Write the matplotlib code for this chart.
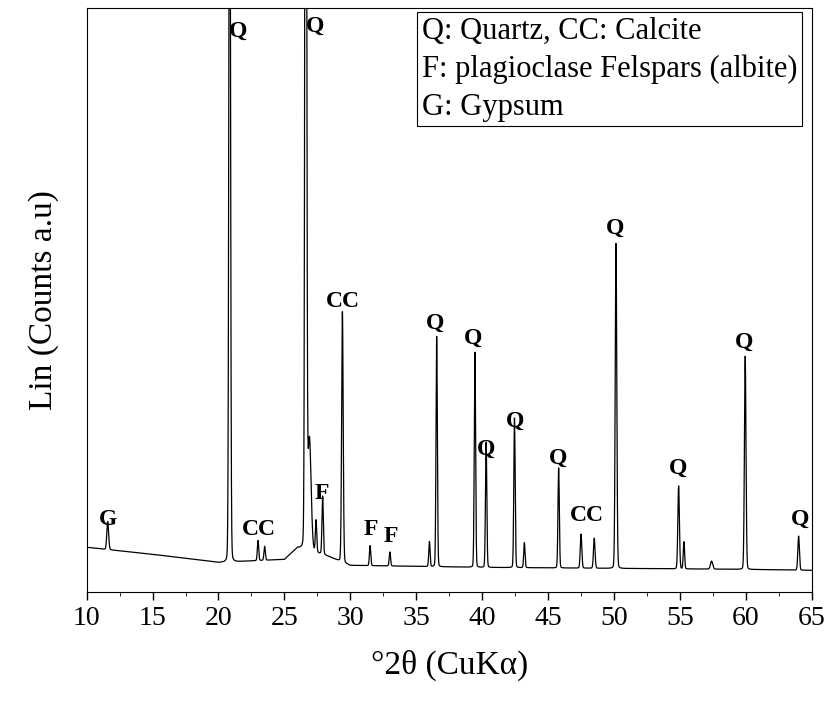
import numpy as np
import matplotlib
matplotlib.use("Agg")
import matplotlib.pyplot as plt
from matplotlib.ticker import MultipleLocator

plt.rcParams['font.family'] = ['Liberation Serif', 'DejaVu Serif']

# peak positions (2theta), heights above background, widths (hwhm)
peak_pos = [11.6, 20.85, 23.0, 23.5, 26.62, 26.9, 27.4, 27.9, 29.4, 31.5, 33.0, 36.0, 36.55,
            39.45, 40.3, 42.45, 43.2, 45.8, 47.5, 48.5, 50.15, 54.9, 55.3, 57.4, 59.95, 64.0]
peak_h = [28, 900, 20, 14, 1400, 110, 32, 58, 250, 20, 14, 25, 230,
          215, 125, 150, 25, 100, 34, 30, 325, 83, 27, 8, 213, 34]
peak_w = [0.08, 0.07, 0.06, 0.06, 0.07, 0.15, 0.06, 0.06, 0.07, 0.06, 0.06, 0.06, 0.06,
          0.06, 0.06, 0.06, 0.06, 0.06, 0.07, 0.07, 0.07, 0.07, 0.06, 0.1, 0.07, 0.07]
# background anchor points
bg_x = [10, 15, 20, 25, 26, 28, 30, 35, 40, 50, 60, 65]
bg_y = [45, 38, 30, 33, 45, 38, 27, 26, 25, 24, 23, 22]

labels = [("G", 11.6, 62), ("Q", 21.5, 550), ("CC", 23.1, 52), ("Q", 27.3, 555),
          ("F", 27.85, 88), ("CC", 29.4, 280), ("F", 31.55, 52), ("F", 33.05, 45),
          ("Q", 36.4, 258), ("Q", 39.3, 243), ("Q", 40.3, 132), ("Q", 42.5, 160),
          ("Q", 45.75, 123), ("CC", 47.95, 66), ("Q", 50.1, 353), ("Q", 54.85, 113),
          ("Q", 59.9, 239), ("Q", 64.1, 62)]

x = np.linspace(10, 65, 6000)
y = np.interp(x, bg_x, bg_y)
for p, h, w in zip(peak_pos, peak_h, peak_w):
    # pseudo-Voigt, mostly gaussian
    g = np.exp(-np.log(2) * ((x - p) / w) ** 2)
    l = 1 / (1 + ((x - p) / w) ** 2)
    y = y + h * (0.9 * g + 0.1 * l * np.exp(-np.abs(x - p) / 0.4))

fig = plt.figure(figsize=(8.25, 7.01), dpi=100)
ax = fig.add_axes([0.105, 0.155, 0.879, 0.834])
ax.plot(x, y, color='black', lw=0.9)
ax.set_xlim(10, 65)
ax.set_ylim(0, 584)
ax.set_yticks([])
ax.xaxis.set_major_locator(MultipleLocator(5))
ax.xaxis.set_minor_locator(MultipleLocator(2.5))
ax.tick_params(axis='x', labelsize=20, length=6, width=1)
ax.tick_params(axis='x', which='minor', length=3)
ax.set_xlabel("°2θ (CuKα)", fontsize=24, labelpad=14)
ax.set_ylabel("Lin (Counts a.u)", fontsize=24, labelpad=20)

for t, px, py in labels:
    ax.text(px, py, t, ha='center', va='bottom', fontsize=17, fontweight='bold')

ax.text(0.462, 0.985,
        "Q: Quartz, CC: Calcite\nF: plagioclase Felspars (albite)\nG: Gypsum",
        transform=ax.transAxes, ha='left', va='top', fontsize=22, linespacing=1.4,
        bbox=dict(boxstyle='square,pad=0.15', fc='white', ec='black', lw=0.8))

fig.savefig("out.png", dpi=100)
